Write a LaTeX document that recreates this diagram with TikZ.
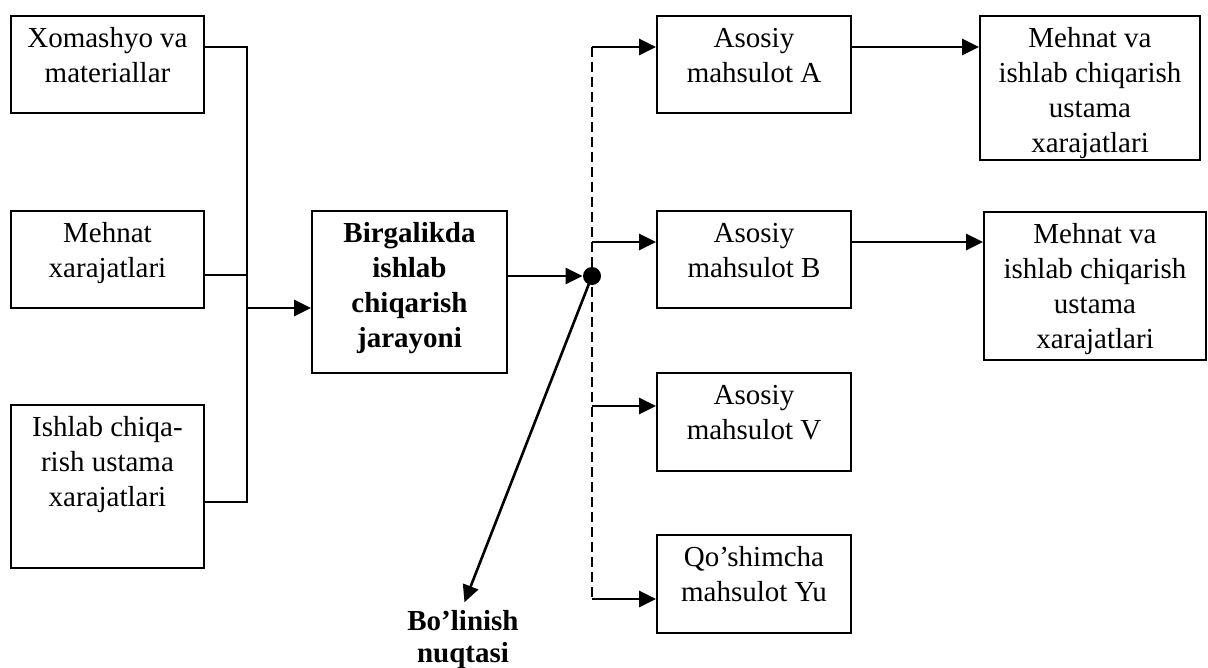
\documentclass[tikz,border=0pt]{standalone}
\usepackage{fontspec}
\setmainfont{Liberation Serif}
\usetikzlibrary{arrows.meta}
\newcommand{\boxtxt}[3]{\parbox[c][#2][t]{#1}{\centering\vspace{3.5pt}\strut#3}}

\begin{document}
\begin{tikzpicture}[x=0.5pt,y=-0.5pt,
		font=\fontsize{14.5}{17.5}\selectfont,
		blk/.style={draw,line width=0.9pt,inner sep=0pt},
		arr/.style={-{Triangle[length=8.5pt,width=8pt]},line width=1.3pt},
		thinln/.style={line width=0.8pt},
		splitline/.style={dash pattern=on 5pt off 2.5pt,line width=0.9pt}]
	\useasboundingbox (0,0) rectangle (1208,668);
	% xarajatlar
	\node[blk] (xom) at (107.5,64.5) {\boxtxt{96.5pt}{48.5pt}{Xomashyo va\\materiallar}};
	\node[blk] (meh) at (107.5,259.5) {\boxtxt{96.5pt}{48.5pt}{Mehnat\\xarajatlari}};
	\node[blk] (ish) at (107.5,486.5) {\boxtxt{96.5pt}{81.5pt}{Ishlab chiqa-\\rish ustama\\xarajatlari}};
	\node[blk] (bir) at (409.5,292) {\boxtxt{97.5pt}{81pt}{\bfseries Birgalikda\\ishlab\\chiqarish\\jarayoni}};
	% mahsulotlar
	\node[blk] (pa) at (754,64.5) {\boxtxt{97pt}{48.5pt}{Asosiy\\mahsulot A}};
	\node[blk] (pb) at (754,259.5) {\boxtxt{97pt}{48.5pt}{Asosiy\\mahsulot B}};
	\node[blk] (pv) at (754,422) {\boxtxt{97pt}{49pt}{Asosiy\\mahsulot V}};
	\node[blk] (pyu) at (754,584) {\boxtxt{97pt}{49pt}{Qo’shimcha\\mahsulot Yu}};
	\node[blk] (ma) at (1090,88) {\boxtxt{110pt}{72pt}{Mehnat va\\ishlab chiqarish\\ustama\\xarajatlari}};
	\node[blk] (mb) at (1095,286) {\boxtxt{111pt}{74pt}{Mehnat va\\ishlab chiqarish\\ustama\\xarajatlari}};
	% bo'linish nuqtasi
	\node[circle,fill,inner sep=0pt,minimum size=9pt] (dot) at (592,276) {};
	\node[anchor=north,align=center,inner sep=2pt,font=\fontsize{14.5}{16}\selectfont\bfseries] (bn) at (463,606) {Bo’linish\\nuqtasi};
	% shina
	\coordinate (b1) at (247,47);
	\coordinate (b2) at (247,275);
	\coordinate (b3) at (247,502);
	\coordinate (bin) at (247,308);
	\draw[thinln] (b1 -| xom.east) -- (b1) -- (b3) -- (b3 -| ish.east);
	\draw[thinln] (b2 -| meh.east) -- (b2);
	\draw[arr] (bin) -- (bin -| bir.west);
	\draw[arr] (bir.east |- dot) -- (dot.west);
	\draw[arr,shorten >=2pt] (dot.center) -- (bn.north);
	% taqsimlash
	\coordinate (ja) at (592,47);
	\coordinate (jb) at (592,242);
	\coordinate (jv) at (592,406);
	\coordinate (jyu) at (592,599);
	\draw[splitline] (ja) -- (jyu);
	\foreach \n in {a,b,v,yu}
		\draw[arr] (j\n) -- (j\n -| p\n.west);
	\draw[arr] (ja -| pa.east) -- (ja -| ma.west);
	\draw[arr] (jb -| pb.east) -- (jb -| mb.west);
\end{tikzpicture}
\end{document}
